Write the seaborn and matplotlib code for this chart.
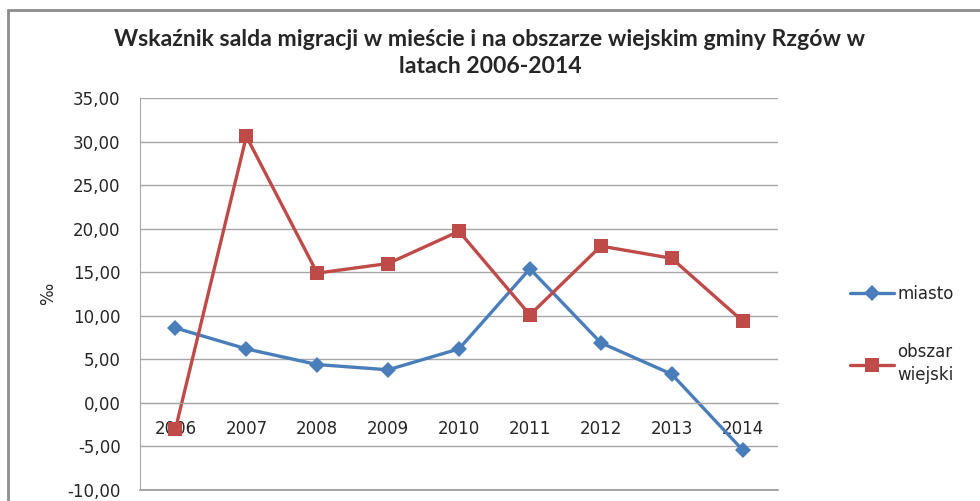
import pandas as pd
import numpy as np
import matplotlib.pyplot as plt
import seaborn as sns
from matplotlib.patches import Rectangle

# data (per mille)
years = ['2006', '2007', '2008', '2009', '2010', '2011', '2012', '2013', '2014']
miasto = [8.6, 6.2, 4.4, 3.8, 6.2, 15.4, 6.9, 3.3, -5.4]
obszar = [-3.0, 30.6, 14.9, 16.0, 19.7, 10.1, 18.0, 16.6, 9.4]
series_names = ['miasto', 'obszar\nwiejski']
yticks = [-10, -5, 0, 5, 10, 15, 20, 25, 30, 35]

df = pd.DataFrame({
    'rok': years * 2,
    'wartosc': miasto + obszar,
    'seria': [series_names[0]] * len(years) + [series_names[1]] * len(years),
})

sns.set_style('white')
plt.rcParams['font.family'] = ['DejaVu Sans']

fig = plt.figure(figsize=(9.8, 5.01), dpi=100)
ax = fig.add_axes([140 / 980, 1 - 490 / 501, 638 / 980, 392 / 501])

# outer chart frame
fig.patches.append(Rectangle((8 / 980, -0.05), 1.1, 1 - 10 / 501 + 0.05,
                             transform=fig.transFigure, fill=False,
                             edgecolor='#8c8c8c', linewidth=2))

colors = {series_names[0]: '#4A7EBB', series_names[1]: '#BE4B48'}
sns.lineplot(data=df, x='rok', y='wartosc', hue='seria', style='seria',
             markers={series_names[0]: 'D', series_names[1]: 's'},
             dashes=False, palette=colors, linewidth=2.4,
             markeredgewidth=0, ax=ax, sort=False)
for line in ax.lines:
    if line.get_marker() == 'D':
        line.set_markersize(8)
    else:
        line.set_markersize(10)

ax.set_xlim(-0.5, len(years) - 0.5)
ax.set_ylim(-10, 35)
ax.set_yticks(yticks)
ax.set_yticklabels([f'{v:.2f}'.replace('.', ',') for v in yticks], fontsize=12)
ax.yaxis.grid(True, color='#a6a6a6', linewidth=1)
ax.axhline(-10, color='#a6a6a6', linewidth=1.5, clip_on=False, zorder=0)
ax.set_axisbelow(True)

for s in ['top', 'right']:
    ax.spines[s].set_visible(False)
ax.spines['left'].set_color('#a6a6a6')
ax.spines['bottom'].set_position(('data', 0))
ax.spines['bottom'].set_color('#a6a6a6')
ax.tick_params(axis='y', length=10, color='#a6a6a6', pad=4, direction='out')
ax.tick_params(axis='x', length=0, pad=12, labelsize=12)

ax.set_xlabel('')
ax.set_ylabel('‰', fontsize=12)
ax.yaxis.set_label_coords(-0.13, 0.5)

handles, labels = ax.get_legend_handles_labels()
leg = ax.legend(handles, labels, loc='center left', bbox_to_anchor=(1.09, 0.397),
                frameon=False, fontsize=12, labelspacing=2.4, handlelength=2.6,
                handletextpad=0.2)
for t in leg.get_texts():
    t.set_linespacing(1.4)

fig.text(0.5, 1 - 53 / 501, 'Wskaźnik salda migracji w mieście i na obszarze wiejskim gminy Rzgów w\nlatach 2006-2014',
         ha='center', va='center', fontsize=16.6, fontweight='bold',
         family='Lato', linespacing=1.3)

fig.savefig('out.png', dpi=100)
